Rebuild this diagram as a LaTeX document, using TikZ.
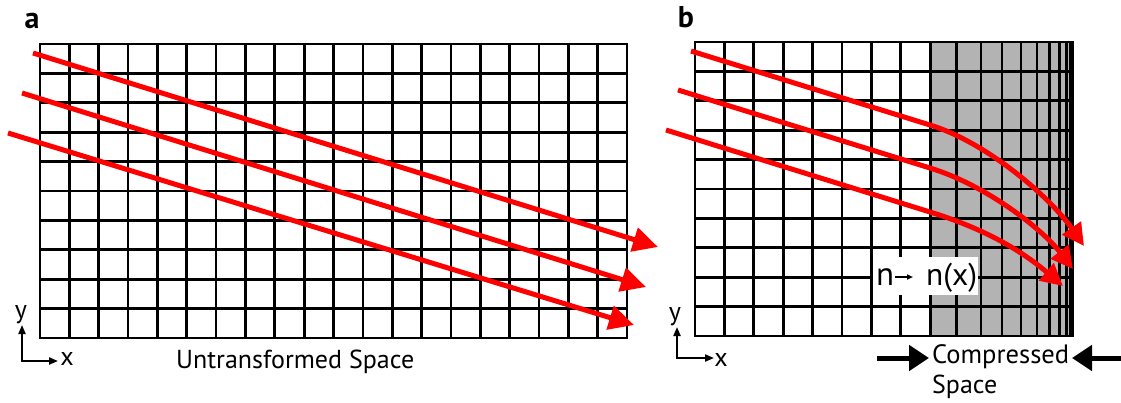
\documentclass[tikz,border=0pt]{standalone}
\usepackage{fontspec}
\setmainfont{PT Sans}
\usetikzlibrary{arrows.meta}
\definecolor{gfill}{RGB}{179,179,179}
\definecolor{rd}{RGB}{255,0,0}
\newcommand{\fitw}[2]{\resizebox{#1}{!}{\fontsize{25}{30}\selectfont #2}}
\begin{document}
\begin{tikzpicture}[x=1pt,y=-1pt,
  gridline/.style={line width=2.7pt, line cap=rect},
  ray/.style={draw=rd, line width=5pt, -{Triangle[length=25pt,width=24pt]}},
  rayb/.style={draw=rd, line width=5pt, -{Triangle[length=22pt,width=22pt]}},
  lbl/.style={inner sep=0pt, font=\fontsize{26}{30}\selectfont},
  panel/.style={inner sep=0pt, font=\fontsize{30}{30}\selectfont\bfseries},
  axis/.style={line width=2pt, {Triangle[length=9pt,width=7pt]}-{Triangle[length=9pt,width=7pt]}},
  smallarrow/.style={line width=1.6pt, -{Triangle[length=6pt,width=5pt]}},
  bigarrow/.style={line width=5pt, -{Triangle[length=20pt,width=25pt]}}]
\useasboundingbox (0,0) rectangle (1121,402);
% ---------- panel a ----------
\node[panel, anchor=base] (la) at (32,28) {a};
\foreach \i in {0,...,20} \draw[gridline] ({40+\i*29.35},44) -- ({40+\i*29.35},338);
\foreach \j in {0,...,10} \draw[gridline] (40,{44+\j*29.4}) -- (627,{44+\j*29.4});
\coordinate (a1s) at (33,53);  \coordinate (a1e) at (658,247);
\coordinate (a2s) at (22,93);  \coordinate (a2e) at (646,287);
\coordinate (a3s) at (8,133);  \coordinate (a3e) at (634,325);
\draw[ray] (a1s) -- (a1e);
\draw[ray] (a2s) -- (a2e);
\draw[ray] (a3s) -- (a3e);
\coordinate (aoy) at (22,325); \coordinate (ao) at (22,361); \coordinate (aox) at (58,361);
\draw[axis] (aoy) -- (ao) -- (aox);
\node[lbl, anchor=base] (ya) at (21,318) {y};
\node[lbl, anchor=base] (xa) at (67,365) {x};
\node[inner sep=0pt, anchor=base west] (ut) at (176,368) {\fitw{238pt}{Untransformed Space}};
% ---------- panel b ----------
\node[panel, anchor=base] (lb) at (686,27) {b};
\fill[gfill] (930.2,42) rectangle (1073,336);
\foreach \x in {695,724.4,753.8,783.2,812.6,842,871.4,900.8,930.2,956.7,981,1002,1021,1037,1049.5,1059.5,1066.5,1070.5,1073}
  \draw[gridline] (\x,42) -- (\x,336);
\foreach \j in {0,...,10} \draw[gridline] (695,{42+\j*29.4}) -- (1073,{42+\j*29.4});
\node[fill=white, inner sep=0pt, minimum width=105pt, minimum height=38pt, anchor=north west] (box) at (873,257) {};
\node[inner sep=0pt, anchor=base west] (n1) at (876,285) {\fitw{18pt}{n}};
\node[inner sep=0pt, anchor=base west] (n2) at (926,285) {\fitw{51pt}{n(x)}};
\coordinate (sas) at (895,277); \coordinate (sae) at (913,277);
\draw[smallarrow] (sas) -- (sae);
\coordinate (b1s) at (691,51);  \coordinate (b1k) at (930,125); \coordinate (b1e) at (1084,246);
\coordinate (b2s) at (678,90);  \coordinate (b2k) at (930,168); \coordinate (b2e) at (1073,269);
\coordinate (b3s) at (666,130); \coordinate (b3k) at (930,212); \coordinate (b3e) at (1063,286);
\draw[rayb] (b1s) -- (b1k) .. controls (987,142.5) and (1049.8,196.8) .. (b1e);
\draw[rayb] (b2s) -- (b2k) .. controls (987,185.5) and (1042,229) .. (b2e);
\draw[rayb] (b3s) -- (b3k) .. controls (987,229.5) and (1023,252) .. (b3e);
\coordinate (boy) at (677,327); \coordinate (bo) at (677,358); \coordinate (box2) at (714,358);
\draw[axis] (boy) -- (bo) -- (box2);
\node[lbl, anchor=base] (yb) at (675,320) {y};
\node[lbl, anchor=base] (xb) at (721,366) {x};
\node[inner sep=0pt, anchor=base west] (cmp1) at (932,363) {\fitw{137pt}{Compressed}};
\node[inner sep=0pt, anchor=base west] (cmp2) at (932,393) {\fitw{65pt}{Space}};
\coordinate (lA) at (877,358); \coordinate (lAe) at (929,358);
\coordinate (rA) at (1121,358); \coordinate (rAe) at (1072,358);
\draw[bigarrow] (lA) -- (lAe);
\draw[bigarrow] (rA) -- (rAe);
\end{tikzpicture}
\end{document}
